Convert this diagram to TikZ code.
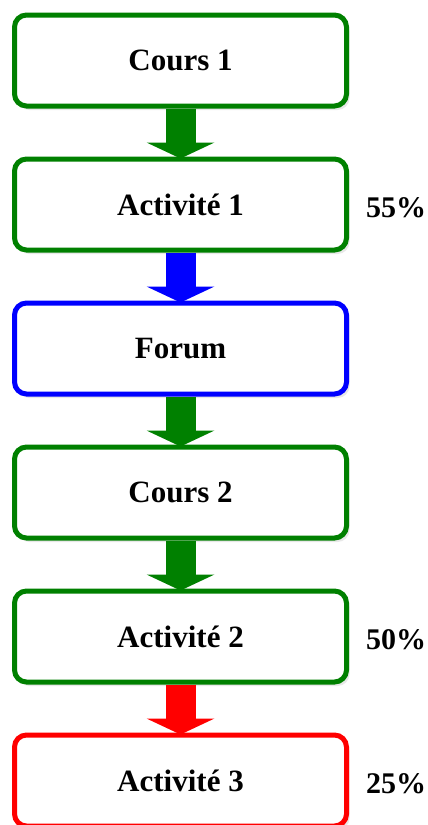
\documentclass[tikz,border=0pt]{standalone}
\usepackage{fontspec}
\setmainfont{Liberation Serif}
\usetikzlibrary{arrows.meta, positioning, shadows}
\definecolor{vert}{RGB}{0,128,0}
\definecolor{bleu}{RGB}{0,0,255}
\definecolor{rouge}{RGB}{255,0,0}

\tikzset{
  etape/.style={draw=#1, line width=5pt, rounded corners=12pt, fill=white,
    minimum width=332pt, minimum height=91pt,
    font=\fontsize{31}{36}\selectfont\bfseries,
    drop shadow={opacity=0.18, shadow xshift=3pt, shadow yshift=-4pt}},
  fleche/.style={draw=#1, line width=30pt,
    -{Triangle[length=16pt, width=68pt, line width=0pt]}, shorten >=-2pt},
  taux/.style={font=\fontsize{30}{34}\selectfont\bfseries, inner sep=0pt, right=17pt of #1, yshift=-3pt}
}

\begin{document}
\begin{tikzpicture}[x=1pt, y=1pt]
  \useasboundingbox (0,0) rectangle (428,-825);

  % les etapes du parcours
  \node[etape=vert] (cours1) at (180.5,-60.5) {Cours 1};
  \node[etape=vert, below=48pt of cours1] (act1) {Activité 1};
  \node[etape=bleu, below=48pt of act1] (forum) {Forum};
  \node[etape=vert, below=48pt of forum] (cours2) {Cours 2};
  \node[etape=vert, below=48pt of cours2] (act2) {Activité 2};
  \node[etape=rouge, below=48pt of act2] (act3) {Activité 3};

  % fleches entre les etapes
  \draw[fleche=vert] (cours1) -- (act1);
  \draw[fleche=bleu] (act1) -- (forum);
  \draw[fleche=vert] (forum) -- (cours2);
  \draw[fleche=vert] (cours2) -- (act2);
  \draw[fleche=rouge] (act2) -- (act3);

  % taux de reussite
  \node[taux=act1] (t1) {55\%};
  \node[taux=act2] (t2) {50\%};
  \node[taux=act3] (t3) {25\%};
\end{tikzpicture}
\end{document}
